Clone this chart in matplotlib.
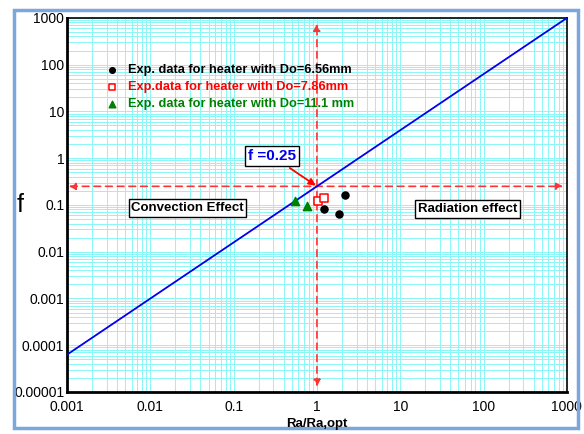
import numpy as np
import matplotlib.pyplot as plt
from matplotlib.patches import Rectangle

plt.rcParams['font.family'] = ['Liberation Sans', 'DejaVu Sans']

# datos experimentales (Ra/Ra,opt , f)
x_656 = [2.17, 1.21, 1.84]
f_656 = [0.164, 0.081, 0.063]
x_786 = [1.04, 1.22]
f_786 = [0.124, 0.143]
x_111 = [0.55, 0.76]
f_111 = [0.12, 0.093]

# correlacion f = 0.25 (Ra/Ra,opt)^1.2
x_line = [0.001, 1000]
f0 = 0.25
expo = 1.2

fig = plt.figure(figsize=(5.84, 4.34), dpi=100)
ax = fig.add_axes([0.1147, 0.0968, 0.856, 0.862])

# marco azul de la figura
fig.patches.append(Rectangle((0.024, 0.014), 0.965, 0.963, transform=fig.transFigure,
                             fill=False, edgecolor='#7aa7dc', linewidth=2.5))

ax.set_xscale('log')
ax.set_yscale('log')
ax.set_xlim(0.001, 1000)
ax.set_ylim(1e-5, 1000)

xl = np.array(x_line)
ax.plot(xl, f0 * xl ** expo, color='#0000ee', lw=1.3, zorder=3)

# lineas de referencia con flechas
ax.annotate('', xy=(900, f0), xytext=(0.00105, f0),
            arrowprops=dict(arrowstyle='<|-|>', color='#ff3333', lw=1.2, ls=(0, (4, 3)),
                            mutation_scale=10, shrinkA=0, shrinkB=0), zorder=2)
ax.annotate('', xy=(1, 750), xytext=(1, 1.3e-5),
            arrowprops=dict(arrowstyle='<|-|>', color='#ff3333', lw=1.2, ls=(0, (4, 3)),
                            mutation_scale=10, shrinkA=0, shrinkB=0), zorder=2)

ax.scatter(x_656, f_656, s=26, color='black', zorder=4,
           label='Exp. data for heater with Do=6.56mm')
ax.scatter(x_786, f_786, s=32, marker='s', facecolors='white', edgecolors='red',
           linewidths=1.1, zorder=4, label='Exp.data for heater with Do=7.86mm')
ax.scatter(x_111, f_111, s=36, marker='^', color='green', zorder=4,
           label='Exp. data for heater with Do=11.1 mm')

leg = ax.legend(loc='upper left', bbox_to_anchor=(0.055, 0.907), frameon=False,
                prop={'weight': 'bold', 'size': 9.2}, handletextpad=0.75, labelspacing=0.4,
                labelcolor=['black', 'red', 'green'], handlelength=1.0, markerscale=0.8)

bx = dict(boxstyle='square,pad=0.2', facecolor='white', edgecolor='black', lw=1)
ax.text(0.0059, 0.086, 'Convection Effect', fontsize=9.5, fontweight='bold', bbox=bx,
        va='center', zorder=5)
ax.text(16.3, 0.082, 'Radiation effect', fontsize=9.5, fontweight='bold', bbox=bx,
        va='center', zorder=5)

ax.annotate('f =0.25', xy=(1, 0.25), xytext=(0.148, 1.12), fontsize=11, fontweight='bold',
            color='#0000ee', va='center', ha='left',
            bbox=dict(boxstyle='square,pad=0.2', facecolor='white', edgecolor='black', lw=1),
            arrowprops=dict(arrowstyle='-|>', color='red', lw=1.3, mutation_scale=10,
                            shrinkA=2, shrinkB=1), zorder=5)

ax.grid(True, which='both', color='#8af7f7', lw=0.7)
ax.set_axisbelow(True)
ax.tick_params(which='both', length=0, labelsize=10)
ax.tick_params(axis='y', pad=2)
ax.tick_params(axis='x', pad=6)

ax.set_xticks([0.001, 0.01, 0.1, 1, 10, 100, 1000])
ax.set_xticklabels(['0.001', '0.01', '0.1', '1', '10', '100', '1000'])
ax.set_yticks([1e-5, 1e-4, 1e-3, 1e-2, 0.1, 1, 10, 100, 1000])
ax.set_yticklabels(['0.00001', '0.0001', '0.001', '0.01', '0.1', '1', '10', '100', '1000'])

for s in ['left', 'bottom']:
    ax.spines[s].set_linewidth(2)
for s in ['top', 'right']:
    ax.spines[s].set_linewidth(1.2)

fig.text(0.543, 0.024, 'Ra/Ra,opt', fontsize=9.5, fontweight='bold', ha='center', va='center')
fig.text(0.035, 0.527, 'f', fontsize=18, ha='center', va='center')

fig.savefig('out.png', dpi=100)
